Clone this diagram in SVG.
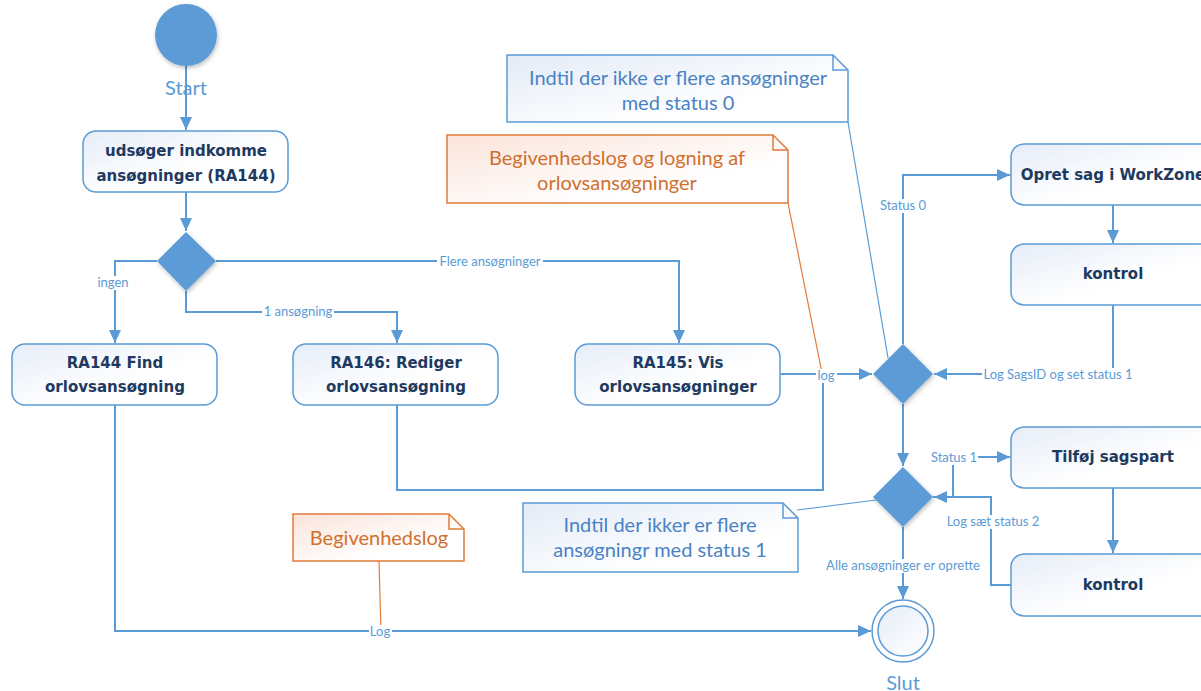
<svg xmlns="http://www.w3.org/2000/svg" width="1201" height="691" viewBox="0 0 1201 691">
<defs>
<linearGradient id="gNode" x1="0" y1="0" x2="1" y2="1"><stop offset="0" stop-color="#e6edf8"/><stop offset="0.6" stop-color="#ffffff"/><stop offset="1" stop-color="#ffffff"/></linearGradient>
<linearGradient id="gBlue" x1="0" y1="0" x2="1" y2="1"><stop offset="0" stop-color="#e3ebf7"/><stop offset="0.7" stop-color="#ffffff"/></linearGradient>
<linearGradient id="gOrange" x1="0" y1="0" x2="1" y2="1"><stop offset="0" stop-color="#fbe3da"/><stop offset="0.7" stop-color="#ffffff"/></linearGradient>
<linearGradient id="gEnd" x1="0" y1="0" x2="1" y2="1"><stop offset="0" stop-color="#e6edf8"/><stop offset="1" stop-color="#ffffff"/></linearGradient>
<filter id="sh" x="-30%" y="-30%" width="160%" height="160%"><feDropShadow dx="1" dy="2" stdDeviation="2" flood-color="#000" flood-opacity="0.25"/></filter>
<marker id="arr" markerUnits="userSpaceOnUse" markerWidth="14" markerHeight="14" viewBox="0 0 14 14" refX="13" refY="7" orient="auto"><path d="M0,1 L13,7 L0,13 Z" fill="#5b9bd5"/></marker>
</defs>
<style>
.node{fill:url(#gNode);stroke:#5b9bd5;stroke-width:1.5}
.nt{font-family:"DejaVu Sans",Verdana,sans-serif;font-weight:bold;font-size:15px;fill:#1f3a60;text-anchor:middle}
.c{fill:none;stroke:#5b9bd5;stroke-width:2}
.ca{fill:none;stroke:#5b9bd5;stroke-width:2;marker-end:url(#arr)}
.lbg{fill:#fff}
.lb{font-family:Lato,"Open Sans",sans-serif;font-size:13px;fill:#5b9bd5;text-anchor:middle}
.dia{fill:#5b9bd5;filter:url(#sh)}
.nb{fill:url(#gBlue);stroke:#5b9bd5;stroke-width:1.5}
.no{fill:url(#gOrange);stroke:#e07b39;stroke-width:1.5}
.ntb{font-family:Lato,"Open Sans",sans-serif;font-size:20px;fill:#4a83c4;text-anchor:middle}
.nto{font-family:Lato,"Open Sans",sans-serif;font-size:20px;fill:#d0702f;text-anchor:middle}
.big{font-family:Lato,"Open Sans",sans-serif;font-size:20px;fill:#5b9bd5;text-anchor:middle}
</style>
<rect width="1201" height="691" fill="#fff"/>

<g id="connectors">
<path class="ca" d="M186 66 V130"/>
<path class="ca" d="M186 192 V231"/>
<path class="ca" d="M157 261 H115 V343"/>
<path class="ca" d="M186 291 V312 H397 V343"/>
<path class="ca" d="M216 261 H679 V343"/>
<path class="c" d="M397 405 V490 H823 V374"/>
<path class="ca" d="M781 374 H872"/>
<path class="ca" d="M903 344 V175 H1010"/>
<path class="ca" d="M1113 205 V243"/>
<path class="ca" d="M1113 305 V374 H934"/>
<path class="ca" d="M903 404 V466"/>
<path class="ca" d="M933 497 H953 V457 H1010"/>
<path class="ca" d="M1113 488 V553"/>
<path class="ca" d="M1011 585 H991 V497 H934"/>
<path class="ca" d="M903 527 V599"/>
<path class="ca" d="M115 405 V631 H871"/>
<path d="M848 122 L888 358" stroke="#5b9bd5" stroke-width="1.2" fill="none"/>
<path d="M788 203 L823 378" stroke="#e07b39" stroke-width="1.2" fill="none"/>
<path d="M797 510 L876 500" stroke="#5b9bd5" stroke-width="1.2" fill="none"/>
<path d="M379 561 L381 632" stroke="#e07b39" stroke-width="1.2" fill="none"/>
<rect class="lbg" x="97" y="276" width="32" height="14"/>
<rect class="lbg" x="262" y="305" width="72" height="14"/>
<rect class="lbg" x="437" y="255" width="106" height="14"/>
<rect class="lbg" x="816" y="369" width="21" height="14"/>
<rect class="lbg" x="878" y="199" width="50" height="14"/>
<rect class="lbg" x="982" y="368" width="152" height="14"/>
<rect class="lbg" x="930" y="451" width="48" height="14"/>
<rect class="lbg" x="945" y="515" width="95" height="14"/>
<rect class="lbg" x="822" y="559" width="163" height="14"/>
<rect class="lbg" x="369" y="625" width="23" height="14"/>
<text class="lb" x="113" y="287">ingen</text>
<text class="lb" x="298" y="316">1 ansøgning</text>
<text class="lb" x="490" y="266">Flere ansøgninger</text>
<text class="lb" x="826" y="380">log</text>
<text class="lb" x="903" y="210">Status 0</text>
<text class="lb" x="1058" y="379">Log SagsID og set status 1</text>
<text class="lb" x="954" y="462">Status 1</text>
<text class="lb" x="993" y="526">Log sæt status 2</text>
<text class="lb" x="903" y="570">Alle ansøgninger er oprette</text>
<text class="lb" x="380" y="636">Log</text>
</g>

<g id="start"><circle cx="186" cy="35" r="31" fill="#5b9bd5" filter="url(#sh)"/><text class="big" x="186" y="95">Start</text></g>

<g id="n1"><rect class="node" x="83" y="131" width="205" height="61" rx="13"/><text class="nt" x="186" y="156">udsøger indkomme</text><text class="nt" x="186" y="181">ansøgninger (RA144)</text></g>

<g id="d1"><path class="dia" d="M186 232 L216 261 L186 291 L157 261 Z"/></g>

<g id="ra144"><rect class="node" x="12" y="344" width="205" height="61" rx="13"/><text class="nt" x="115" y="368">RA144 Find</text><text class="nt" x="115" y="392">orlovsansøgning</text></g>
<g id="ra146"><rect class="node" x="293" y="344" width="205" height="61" rx="13"/><text class="nt" x="396" y="368">RA146: Rediger</text><text class="nt" x="396" y="392">orlovsansøgning</text></g>
<g id="ra145"><rect class="node" x="575" y="344" width="205" height="61" rx="13"/><text class="nt" x="678" y="368">RA145: Vis</text><text class="nt" x="678" y="392">orlovsansøgninger</text></g>

<g id="d2"><path class="dia" d="M903 344 L933 374 L903 404 L873 374 Z"/></g>
<g id="d3"><path class="dia" d="M903 467 L933 497 L903 527 L873 497 Z"/></g>

<g id="opret"><rect class="node" x="1011" y="144" width="205" height="61" rx="13"/><text class="nt" x="1113" y="180">Opret sag i WorkZone</text></g>
<g id="kontrol1"><rect class="node" x="1011" y="244" width="205" height="61" rx="13"/><text class="nt" x="1113" y="279">kontrol</text></g>
<g id="tilfoej"><rect class="node" x="1011" y="427" width="205" height="61" rx="13"/><text class="nt" x="1113" y="462">Tilføj sagspart</text></g>
<g id="kontrol2"><rect class="node" x="1011" y="554" width="205" height="62" rx="13"/><text class="nt" x="1113" y="590">kontrol</text></g>

<g id="slut"><circle cx="903" cy="631" r="31" fill="#fff" stroke="#5b9bd5" stroke-width="1.5"/><circle cx="903" cy="631" r="25" fill="url(#gEnd)" stroke="#5b9bd5" stroke-width="1.5"/><text class="big" x="903" y="690">Slut</text></g>

<g id="note1"><path class="nb" d="M507 55 H833 L848 70 V122 H507 Z"/><path d="M833 55 V70 H848" fill="none" stroke="#5b9bd5" stroke-width="1.5"/><text class="ntb" x="678" y="85">Indtil der ikke er flere ansøgninger</text><text class="ntb" x="678" y="110">med status 0</text></g>
<g id="note2"><path class="no" d="M447 135 H773 L788 150 V203 H447 Z"/><path d="M773 135 V150 H788" fill="none" stroke="#e07b39" stroke-width="1.5"/><text class="nto" x="617" y="165">Begivenhedslog og logning af</text><text class="nto" x="617" y="190">orlovsansøgninger</text></g>
<g id="note3"><path class="nb" d="M523 503 H783 L798 518 V572 H523 Z"/><path d="M783 503 V518 H798" fill="none" stroke="#5b9bd5" stroke-width="1.5"/><text class="ntb" x="660" y="532">Indtil der ikker er flere</text><text class="ntb" x="660" y="557">ansøgningr med status 1</text></g>
<g id="note4"><path class="no" d="M293 514 H449 L464 529 V561 H293 Z"/><path d="M449 514 V529 H464" fill="none" stroke="#e07b39" stroke-width="1.5"/><text class="nto" x="379" y="545">Begivenhedslog</text></g>
</svg>
